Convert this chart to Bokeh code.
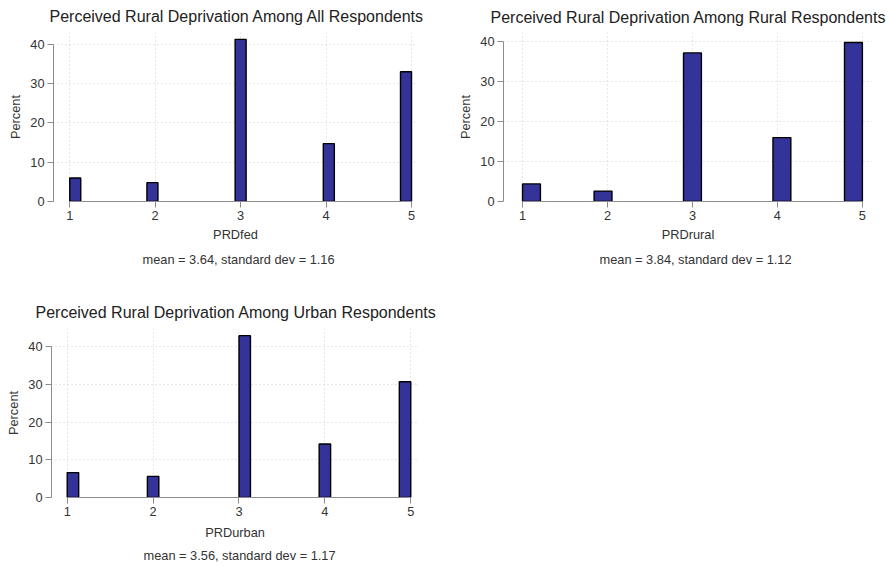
import math
from bokeh.plotting import figure
from bokeh.models import FixedTicker, Range1d, Title, ColumnDataSource
from bokeh.layouts import column, row
from bokeh.embed import file_html
from bokeh.resources import INLINE

# ---- data (percent of respondents per response 1..5) ----
categories = [1, 2, 3, 4, 5]
prd_fed = [6.0, 4.8, 41.3, 14.75, 33.05]
prd_rural = [4.4, 2.6, 37.2, 16.0, 39.8]
prd_urban = [6.6, 5.6, 42.9, 14.2, 30.7]
bins_fed, bins_rural, bins_urban = 31, 19, 30
y_ticks = [0, 10, 20, 30, 40]

titles = ["Perceived Rural Deprivation Among All Respondents",
          "Perceived Rural Deprivation Among Rural Respondents",
          "Perceived Rural Deprivation Among Urban Respondents"]
xlabels = ["PRDfed", "PRDrural", "PRDurban"]
notes = ["mean = 3.64, standard dev = 1.16",
         "mean = 3.84, standard dev = 1.12",
         "mean = 3.56, standard dev = 1.17"]

FONT = "Liberation Sans"
BAR = "#333399"
AX = "#8c8c8c"
TXT = "#333333"


def hist_edges(cats, nbins, lo=1.0, hi=5.0):
    w = (hi - lo) / nbins
    left, right = [], []
    for c in cats:
        i = min(int(math.floor((c - lo) / w + 1e-9)), nbins - 1)
        left.append(lo + i * w)
        right.append(lo + (i + 1) * w)
    return left, right


def panel(title, xlabel, note, vals, nbins, w, h, bl, br, bt, bb,
          xr, yr, t_off, t_stand, t_valign, n_off, n_stand, xl_stand):
    p = figure(width=w, height=h, output_backend="svg", toolbar_location=None,
               x_range=Range1d(*xr), y_range=Range1d(*yr),
               min_border_left=bl, min_border_right=br,
               min_border_top=bt, min_border_bottom=bb)
    p.outline_line_color = None
    p.background_fill_color = "white"
    p.border_fill_color = "white"

    left, right = hist_edges(categories, nbins)
    src = ColumnDataSource(dict(left=left, right=right, top=vals,
                                bottom=[0] * len(vals)))
    p.quad(left="left", right="right", top="top", bottom="bottom", source=src,
           fill_color=BAR, line_color="black", line_width=1.4)

    p.xaxis.ticker = FixedTicker(ticks=categories)
    p.yaxis.ticker = FixedTicker(ticks=y_ticks)
    p.xaxis.bounds = (categories[0], categories[-1])
    p.yaxis.bounds = (y_ticks[0], y_ticks[-1])
    for ax in (p.xaxis[0], p.yaxis[0]):
        ax.axis_line_color = AX
        ax.major_tick_line_color = AX
        ax.minor_tick_line_color = None
        ax.major_tick_in = 0
        ax.major_tick_out = 6
        ax.major_label_text_font = FONT
        ax.major_label_text_font_size = "12.8px"
        ax.major_label_text_color = TXT
        ax.axis_label_text_font = FONT
        ax.axis_label_text_font_size = "12.8px"
        ax.axis_label_text_font_style = "normal"
        ax.axis_label_text_color = TXT
        ax.major_label_standoff = 3
        ax.axis_label_standoff = 4
    p.xaxis.axis_label_standoff = xl_stand
    p.xaxis.axis_label = xlabel
    p.yaxis.axis_label = "Percent"
    p.yaxis.major_label_orientation = "horizontal"

    p.xgrid.ticker = FixedTicker(ticks=categories)
    p.ygrid.ticker = FixedTicker(ticks=y_ticks)
    for g in (p.xgrid[0], p.ygrid[0]):
        g.grid_line_color = "#cfcfcf"
        g.grid_line_dash = "1 3"
        g.grid_line_width = 1

    p.title.text = title
    p.title.align = "left"
    p.title.offset = t_off
    p.title.standoff = t_stand
    p.title.vertical_align = t_valign
    p.title.text_font = FONT
    p.title.text_font_size = "16px"
    p.title.text_font_style = "normal"
    p.title.text_color = "#222222"

    p.add_layout(Title(text=note, align="left", offset=n_off,
                       text_font=FONT, text_font_size="12.8px",
                       text_font_style="normal", text_color=TXT,
                       standoff=n_stand), "below")
    return p


p1 = panel(titles[0], xlabels[0], notes[0], prd_fed, bins_fed,
           445, 293, 53, 28, 32, 92, (0.81, 5.07), (0, 43.05), -4, 12, "top",
           89, 11, 4)
p2 = panel(titles[1], xlabels[1], notes[1], prd_rural, bins_rural,
           445, 293, 58, 18, 29, 92, (0.776, 5.119), (0, 42.3), -13, 10, "top",
           96, 11, 4)
p3 = panel(titles[2], xlabels[2], notes[2], prd_urban, bins_urban,
           445, 273, 51, 27, 35, 66, (0.817, 5.09), (0, 44.8), -16, 11, "top",
           92, 7, 6)

layout = column(row(p1, p2), row(p3))

with open("out.html", "w") as f:
    f.write(file_html(layout, INLINE))
